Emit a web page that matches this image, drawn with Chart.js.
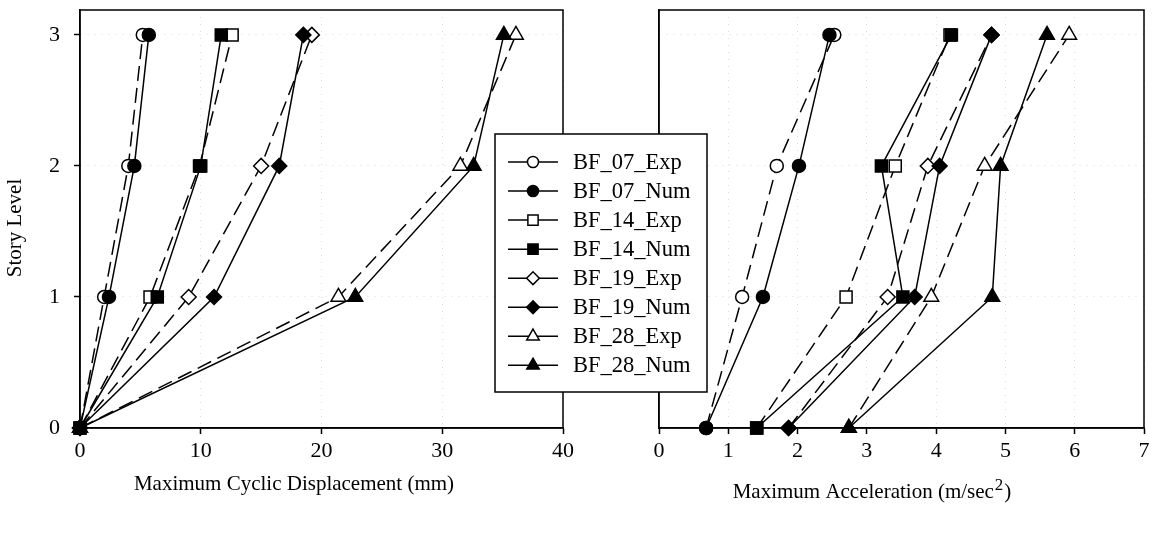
<!DOCTYPE html>
<html>
<head>
<meta charset="utf-8">
<script src="https://cdn.jsdelivr.net/npm/chart.js@4.4.1/dist/chart.umd.min.js"></script>
<style>
  body { margin: 0; background: #fff; }
  #wrap { position: relative; width: 1155px; height: 533px; }
  canvas { position: absolute; top: 0; }
  #dispChart { left: 0; }
  #accChart { left: 480px; }
</style>
</head>
<body>
<div id="wrap">
  <canvas id="dispChart" width="600" height="533"></canvas>
  <canvas id="accChart" width="675" height="533"></canvas>
</div>
<script>
const storyLevels = [0, 1, 2, 3];
const seriesNames = ['BF_07_Exp', 'BF_07_Num', 'BF_14_Exp', 'BF_14_Num',
                     'BF_19_Exp', 'BF_19_Num', 'BF_28_Exp', 'BF_28_Num'];

// maximum cyclic displacement (mm), story levels 0..3
const dispBF07Exp = [0, 2.0, 4.0, 5.2];
const dispBF07Num = [0, 2.4, 4.5, 5.7];
const dispBF14Exp = [0, 5.8, 9.9, 12.6];
const dispBF14Num = [0, 6.4, 10.0, 11.7];
const dispBF19Exp = [0, 9.0, 15.0, 19.2];
const dispBF19Num = [0, 11.1, 16.5, 18.5];
const dispBF28Exp = [0, 21.4, 31.5, 36.1];
const dispBF28Num = [0, 22.8, 32.6, 35.1];

// maximum acceleration (m/sec^2), story levels 0..3
const accBF07Exp = [0.68, 1.20, 1.70, 2.53];
const accBF07Num = [0.68, 1.50, 2.02, 2.46];
const accBF14Exp = [1.41, 2.70, 3.41, 4.20];
const accBF14Num = [1.41, 3.52, 3.21, 4.22];
const accBF19Exp = [1.87, 3.30, 3.88, 4.80];
const accBF19Num = [1.87, 3.69, 4.05, 4.80];
const accBF28Exp = [2.74, 3.93, 4.70, 5.92];
const accBF28Num = [2.74, 4.81, 4.93, 5.60];

const dispTicks = [0, 10, 20, 30, 40];
const accTicks = [0, 1, 2, 3, 4, 5, 6, 7];

const markerStyles = ['circle', 'circle', 'rect', 'rect', 'rectRot', 'rectRot', 'triangle', 'triangle'];
const markerSize = { circle: 6.5, rect: 8.5, rectRot: 7.5, triangle: 8.5 };

Chart.defaults.font.family = '"Liberation Serif", "Times New Roman", serif';
Chart.defaults.color = '#000';

function buildDatasets(seriesValues) {
  return seriesValues.map((vals, i) => {
    const num = i % 2 === 1;
    const style = markerStyles[i];
    return {
      label: seriesNames[i],
      data: vals.map((v, k) => ({ x: v, y: storyLevels[k] })),
      borderColor: '#000',
      backgroundColor: num ? '#000' : '#fff',
      borderWidth: 1.5,
      borderDash: num ? [] : [15, 7],
      pointStyle: style,
      pointRadius: markerSize[style],
      pointBorderWidth: 1.5,
      pointBackgroundColor: num ? '#000' : '#fff',
      pointBorderColor: '#000',
      tension: 0,
      clip: false,
      order: seriesValues.length - i
    };
  });
}

// fixed level ticks on the story axis
function levelTicks(scale) {
  scale.ticks = storyLevels.map(v => ({ value: v }));
}

function fixedTicks(list) {
  return scale => { scale.ticks = list.map(v => ({ value: v })); };
}

const faintGrid = {
  color: 'rgba(0,0,0,0.14)',
  lineWidth: 1,
  tickColor: '#000',
  tickWidth: 1.5,
  tickLength: 6
};

const framePlugin = {
  id: 'frame',
  afterDatasetsDraw(chart) {
    const a = chart.chartArea;
    const ctx = chart.ctx;
    ctx.save();
    ctx.strokeStyle = '#000';
    ctx.lineWidth = 1.5;
    ctx.setLineDash([]);
    ctx.strokeRect(a.left, a.top, a.right - a.left, a.bottom - a.top);
    ctx.restore();
  }
};

function baseScales(xTicks, xMax, showY) {
  return {
    x: {
      type: 'linear',
      min: 0,
      max: xMax,
      afterBuildTicks: fixedTicks(xTicks),
      afterFit(s) { s.height = 105; s.paddingLeft = 0; s.paddingRight = 0; },
      grid: faintGrid,
      border: { display: true, color: '#000', width: 1.5, dash: [1, 6] },
      ticks: { font: { size: 22 }, padding: 4, maxRotation: 0 }
    },
    y: {
      type: 'linear',
      min: 0,
      max: 3.19,
      afterBuildTicks: levelTicks,
      afterFit(s) { s.width = showY ? 80 : 179; s.paddingTop = 0; s.paddingBottom = 0; },
      grid: Object.assign({}, faintGrid, { drawTicks: showY }),
      border: { display: true, color: '#000', width: 1.5, dash: [1, 6] },
      ticks: { display: showY, font: { size: 22 }, padding: 14 }
    }
  };
}

// left panel: displacement profile
new Chart(document.getElementById('dispChart'), {
  type: 'line',
  data: {
    datasets: buildDatasets([dispBF07Exp, dispBF07Num, dispBF14Exp, dispBF14Num,
                             dispBF19Exp, dispBF19Num, dispBF28Exp, dispBF28Num])
  },
  options: {
    responsive: false,
    animation: false,
    layout: { padding: { top: 10, right: 37, left: 0, bottom: 0 } },
    plugins: { legend: { display: false }, tooltip: { enabled: false } },
    scales: baseScales(dispTicks, 40, true)
  },
  plugins: [framePlugin, {
    id: 'dispTitles',
    afterDraw(chart) {
      const a = chart.chartArea;
      const ctx = chart.ctx;
      ctx.save();
      ctx.fillStyle = '#000';
      ctx.font = '21px "Liberation Serif"';
      ctx.textAlign = 'center';
      ctx.textBaseline = 'middle';
      ctx.fillText('Maximum Cyclic Displacement (mm)', a.left + 214, a.bottom + 56);
      ctx.translate(15, a.top + 218);
      ctx.rotate(-Math.PI / 2);
      ctx.fillText('Story Level', 0, 0);
      ctx.restore();
    }
  }]
});

function drawMarker(ctx, style, r, x, y) {
  if (Chart.helpers && Chart.helpers.drawPoint) {
    Chart.helpers.drawPoint(ctx, { pointStyle: style, radius: r, borderWidth: 1.5, rotation: 0 }, x, y);
    return;
  }
  ctx.beginPath();
  ctx.arc(x, y, r, 0, Math.PI * 2);
  ctx.fill();
  ctx.stroke();
}

// right panel: acceleration profile, with the shared legend box
new Chart(document.getElementById('accChart'), {
  type: 'line',
  data: {
    datasets: buildDatasets([accBF07Exp, accBF07Num, accBF14Exp, accBF14Num,
                             accBF19Exp, accBF19Num, accBF28Exp, accBF28Num])
  },
  options: {
    responsive: false,
    animation: false,
    layout: { padding: { top: 10, right: 11, left: 0, bottom: 0 } },
    plugins: { legend: { display: false }, tooltip: { enabled: false } },
    scales: baseScales(accTicks, 7, false)
  },
  plugins: [framePlugin, {
    id: 'accTitleLegend',
    afterDraw(chart) {
      const a = chart.chartArea;
      const ctx = chart.ctx;
      ctx.save();
      ctx.fillStyle = '#000';

      // axis title with superscript
      const main = 'Maximum Acceleration (m/sec';
      ctx.font = '21px "Liberation Serif"';
      const wMain = ctx.measureText(main).width;
      ctx.font = '17px "Liberation Serif"';
      const wSup = ctx.measureText('2').width;
      ctx.font = '21px "Liberation Serif"';
      const wEnd = ctx.measureText(')').width;
      let x = a.left + 212 - (wMain + wSup + wEnd) / 2;
      const base = a.bottom + 70;
      ctx.textAlign = 'left';
      ctx.textBaseline = 'alphabetic';
      ctx.fillText(main, x, base);
      x += wMain + 1;
      ctx.font = '17px "Liberation Serif"';
      ctx.fillText('2', x, base - 8);
      x += wSup + 1;
      ctx.font = '21px "Liberation Serif"';
      ctx.fillText(')', x, base);

      // legend box
      const bx = a.left - 164, by = 134, bw = 212, bh = 258;
      ctx.fillStyle = '#fff';
      ctx.fillRect(bx, by, bw, bh);
      ctx.strokeStyle = '#000';
      ctx.lineWidth = 1.5;
      ctx.strokeRect(bx, by, bw, bh);
      ctx.font = '22.5px "Liberation Serif"';
      ctx.textBaseline = 'middle';
      chart.data.datasets.forEach((ds, i) => {
        const y = by + 28 + i * 29.05;
        ctx.strokeStyle = '#000';
        ctx.lineWidth = 1.5;
        ctx.beginPath();
        ctx.moveTo(bx + 13, y);
        ctx.lineTo(bx + 63, y);
        ctx.stroke();
        ctx.fillStyle = ds.backgroundColor;
        drawMarker(ctx, ds.pointStyle, ds.pointRadius * 0.85, bx + 38, y);
        ctx.fillStyle = '#000';
        ctx.fillText(ds.label, bx + 78, y + 1);
      });
      ctx.restore();
    }
  }]
});
</script>
</body>
</html>
